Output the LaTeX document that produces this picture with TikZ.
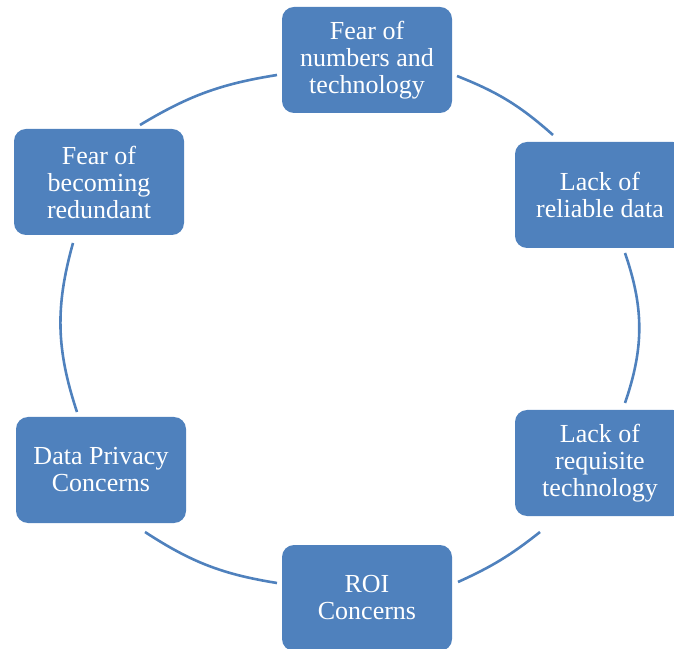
\documentclass[tikz,border=0pt]{standalone}
\usepackage{fontspec}
\setmainfont{Liberation Serif}
\usepackage{tikz}
\usepackage{xcolor}

\definecolor{cycleblue}{HTML}{4F81BD}

\tikzset{
  cyclebox/.style={rectangle, rounded corners=6pt, fill=cycleblue, text=white,
    align=center, minimum width=85pt, minimum height=53pt, inner sep=2pt,
    font=\fontsize{13}{13.5}\selectfont},
  ring/.style={draw=cycleblue, line width=1.3pt}
}

\begin{document}
\begin{tikzpicture}[x=0.5pt, y=0.5pt]
\useasboundingbox (0,0) rectangle (674,648);

\node[cyclebox] (fear) at (367,588) {Fear of\\numbers and\\technology};
\node[cyclebox] (data) at (600,453) {Lack of\\reliable data};
\node[cyclebox] (tech) at (600,185) {Lack of\\requisite\\technology};
\node[cyclebox] (roi) at (367,50) {ROI\\Concerns};
\node[cyclebox] (privacy) at (101,178) {Data Privacy\\Concerns};
\node[cyclebox] (redundant) at (99,466) {Fear of\\becoming\\redundant};

\coordinate (fear-out) at (457,572);
\coordinate (data-in) at (553,513);
\coordinate (data-out) at (625,395);
\coordinate (tech-in) at (625,245);
\coordinate (tech-out) at (540,116);
\coordinate (roi-in) at (458,66);
\coordinate (roi-out) at (277,65);
\coordinate (privacy-in) at (145,116);
\coordinate (privacy-out) at (77,236);
\coordinate (redundant-in) at (73,405);
\coordinate (redundant-out) at (140,523);
\coordinate (fear-in) at (277,573);

\draw[ring] (fear-out) to[bend left=10] (data-in);
\draw[ring] (data-out) to[bend left=19] (tech-in);
\draw[ring] (tech-out) to[bend left=7] (roi-in);
\draw[ring] (roi-out) to[bend left=12] (privacy-in);
\draw[ring] (privacy-out) to[bend left=17] (redundant-in);
\draw[ring] (redundant-out) to[bend left=11] (fear-in);
\end{tikzpicture}
\end{document}
